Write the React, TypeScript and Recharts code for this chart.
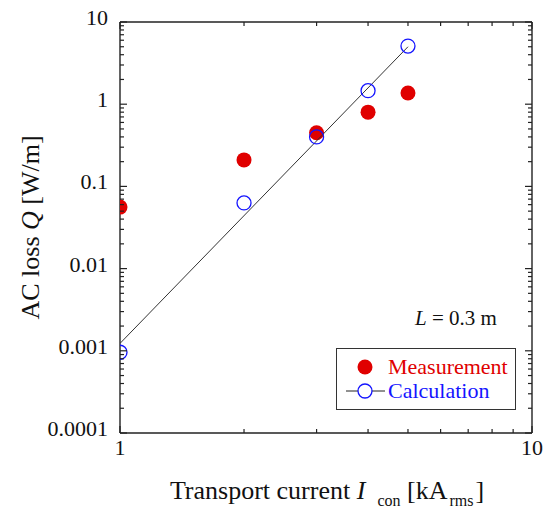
// AC loss vs transport current, log-log scatter with fit line
import { ScatterChart, Scatter, XAxis, YAxis, Legend, Label } from "recharts"

const currents = [1, 2, 3, 4, 5]
const measuredLoss = [0.056, 0.21, 0.45, 0.8, 1.37]
const calculatedLoss = [0.00096, 0.063, 0.4, 1.46, 5.1]

// calculation curve (straight on log-log)
const fitCurrents = [1, 5]
const fitLoss = [0.00123, 5.0]

const xMajorTicks = [1, 10]
const xMajorLabels = ["1", "10"]
const xMinorTicks = [2, 3, 4, 5, 6, 7, 8, 9]

const yMajorTicks = [0.0001, 0.001, 0.01, 0.1, 1, 10]
const yMajorLabels = ["0.0001", "0.001", "0.01", "0.1", "1", "10"]
const yMinorSteps = [2, 3, 4, 5, 6, 7, 8, 9]

const legendOrder = ["Measurement", "Calculation"]

const FONT = "'Liberation Serif', 'Times New Roman', serif"
const RED = "#e00000"
const BLUE = "#1414ff"
const AXIS = "#222"

const yMinorTicks = yMajorTicks.slice(0, -1).flatMap((d) => yMinorSteps.map((k) => d * k))
const xTicks = [...xMajorTicks, ...xMinorTicks]
const yTicks = [...yMajorTicks, ...yMinorTicks]

const measuredData = currents.map((x, i) => ({ x, y: measuredLoss[i] }))
const calculatedData = currents.map((x, i) => ({ x, y: calculatedLoss[i] }))
const fitData = fitCurrents.map((x, i) => ({ x, y: fitLoss[i] }))

const MAJOR = 7
const MINOR = 4

function findMajor(list: number[], v: number) {
  return list.findIndex((m) => Math.abs(m - v) / m < 1e-6)
}

// tick lines are drawn inward by hand, labels only on majors
function BottomTick(props: any) {
  const { x, y, payload } = props
  const i = findMajor(xMajorTicks, payload.value)
  const len = i >= 0 ? MAJOR : MINOR
  return (
    <g>
      <line x1={x} y1={y} x2={x} y2={y - len} stroke={AXIS} strokeWidth={1.2} />
      {i >= 0 && (
        <text x={x} y={y + 22} textAnchor="middle" fontSize={22} fontFamily={FONT} fill="#111">
          {xMajorLabels[i]}
        </text>
      )}
    </g>
  )
}

function TopTick(props: any) {
  const { x, y, payload } = props
  const len = findMajor(xMajorTicks, payload.value) >= 0 ? MAJOR : MINOR
  return <line x1={x} y1={y} x2={x} y2={y + len} stroke={AXIS} strokeWidth={1.2} />
}

function LeftTick(props: any) {
  const { x, y, payload } = props
  const i = findMajor(yMajorTicks, payload.value)
  const len = i >= 0 ? MAJOR : MINOR
  return (
    <g>
      <line x1={x} y1={y} x2={x + len} y2={y} stroke={AXIS} strokeWidth={1.2} />
      {i >= 0 && (
        <text x={x - 12} y={y + 3} textAnchor="end" fontSize={22} fontFamily={FONT} fill="#111">
          {yMajorLabels[i]}
        </text>
      )}
    </g>
  )
}

function RightTick(props: any) {
  const { x, y, payload } = props
  const len = findMajor(yMajorTicks, payload.value) >= 0 ? MAJOR : MINOR
  return <line x1={x} y1={y} x2={x - len} y2={y} stroke={AXIS} strokeWidth={1.2} />
}

function XTitle(props: any) {
  const vb = props.viewBox
  return (
    <text x={vb.x + vb.width / 2 + 1} y={vb.y + 66} textAnchor="middle" fontSize={26} fontFamily={FONT} fill="#111">
      Transport current <tspan fontStyle="italic">I</tspan>
      <tspan fontSize={16} dy={7} dx={12}>con</tspan>
      <tspan dy={-7}> [kA</tspan>
      <tspan fontSize={16} dy={7} dx={2}>rms</tspan>
      <tspan dy={-7} dx={2}>]</tspan>
    </text>
  )
}

function YTitle(props: any) {
  const vb = props.viewBox
  const cy = vb.y + vb.height / 2
  return (
    <text x={30} y={cy} transform={`rotate(-90 30 ${cy})`} textAnchor="middle" dominantBaseline="central"
      fontSize={26} fontFamily={FONT} fill="#111">
      AC loss <tspan fontStyle="italic">Q</tspan> [W/m]
    </text>
  )
}

function LegendBox(props: any) {
  const items = (props.payload || [])
    .filter((p: any) => legendOrder.includes(p.value))
    .sort((a: any, b: any) => legendOrder.indexOf(a.value) - legendOrder.indexOf(b.value))
  return (
    <svg width={182} height={112} style={{ display: "block", overflow: "visible" }}>
      <text x={79} y={25} fontSize={21} fontFamily={FONT} fill="#111">
        <tspan fontStyle="italic">L</tspan> = 0.3 m
      </text>
      <rect x={0.5} y={48.5} width={179} height={61} fill="#fff" stroke="#333" strokeWidth={1} />
      {items.map((p: any, i: number) => {
        const cy = 67 + i * 24
        const calc = p.value === "Calculation"
        return (
          <g key={p.value}>
            {calc ? (
              <>
                <line x1={10} y1={cy} x2={49} y2={cy} stroke="#222" strokeWidth={1} />
                <circle cx={29} cy={cy} r={7} fill="#fff" stroke={BLUE} strokeWidth={1.3} />
              </>
            ) : (
              <circle cx={29} cy={cy} r={7.5} fill={RED} />
            )}
            <text x={52} y={cy + 7} fontSize={22} fontFamily={FONT} fill={calc ? BLUE : RED}>
              {p.value}
            </text>
          </g>
        )
      })}
    </svg>
  )
}

export default function App() {
  return (
    <div style={{ position: "absolute", left: 0, top: 0, background: "#fff" }}>
      <ScatterChart width={551} height={511} margin={{ top: 21, right: 18, bottom: 77, left: 0 }}>
        <XAxis xAxisId="bottom" dataKey="x" type="number" scale="log" domain={[1, 10]} allowDataOverflow
          orientation="bottom" height={1} ticks={xTicks} interval={0} tickSize={0} tickMargin={0}
          tickLine={false} tick={<BottomTick />} axisLine={{ stroke: AXIS, strokeWidth: 1.4 }}>
          <Label content={<XTitle />} />
        </XAxis>
        <XAxis xAxisId="top" dataKey="x" type="number" scale="log" domain={[1, 10]} allowDataOverflow
          orientation="top" height={1} ticks={xTicks} interval={0} tickSize={0} tickMargin={0}
          tickLine={false} tick={<TopTick />} axisLine={{ stroke: AXIS, strokeWidth: 1.4 }} />
        <YAxis yAxisId="left" dataKey="y" type="number" scale="log" domain={[0.0001, 10]} allowDataOverflow
          orientation="left" width={120} ticks={yTicks} interval={0} tickSize={0} tickMargin={0}
          tickLine={false} tick={<LeftTick />} axisLine={{ stroke: AXIS, strokeWidth: 1.4 }}>
          <Label content={<YTitle />} />
        </YAxis>
        <YAxis yAxisId="right" dataKey="y" type="number" scale="log" domain={[0.0001, 10]} allowDataOverflow
          orientation="right" width={1} ticks={yTicks} interval={0} tickSize={0} tickMargin={0}
          tickLine={false} tick={<RightTick />} axisLine={{ stroke: AXIS, strokeWidth: 1.4 }} />

        <Legend layout="vertical" align="center" verticalAlign="middle" content={<LegendBox />}
          wrapperStyle={{ position: "absolute", left: 336, top: 300, width: 182, height: 112 }} />

        <Scatter name="Measurement" data={measuredData} xAxisId="bottom" yAxisId="left" fill={RED}
          isAnimationActive={false}
          shape={(p: any) => <circle cx={p.cx} cy={p.cy} r={7.5} fill={RED} />} />
        <Scatter name="fit" legendType="none" data={fitData} xAxisId="top" yAxisId="right"
          isAnimationActive={false} line={{ stroke: "#333", strokeWidth: 1 }}
          shape={() => <g />} />
        <Scatter name="Calculation" data={calculatedData} xAxisId="bottom" yAxisId="left" fill={BLUE}
          isAnimationActive={false}
          shape={(p: any) => <circle cx={p.cx} cy={p.cy} r={7} fill="none" stroke={BLUE} strokeWidth={1.3} />} />
      </ScatterChart>
    </div>
  )
}
